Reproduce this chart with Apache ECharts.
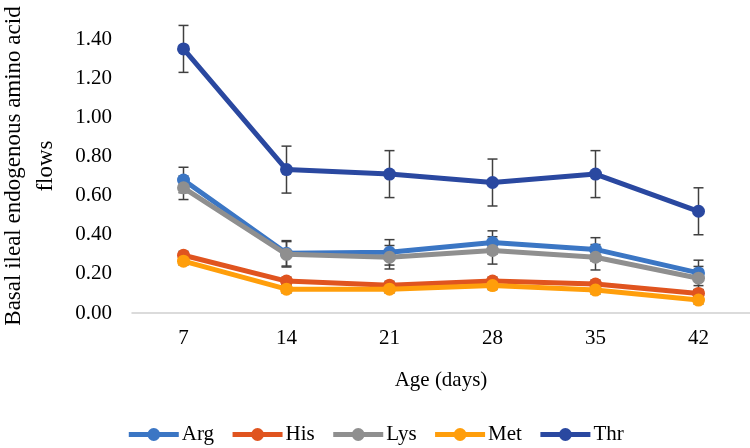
<!DOCTYPE html>
<html>
<head>
<meta charset="utf-8">
<script src="https://cdn.jsdelivr.net/npm/echarts@6/dist/echarts.min.js"></script>
<style>
  html, body { margin: 0; padding: 0; background: #fff; }
  #chart { width: 750px; height: 448px; }
</style>
</head>
<body>
<div id="chart"></div>
<script>
// age in days
const categories = ['7', '14', '21', '28', '35', '42'];

const arg = [0.68, 0.305, 0.31, 0.36, 0.325, 0.205];
const his = [0.295, 0.163, 0.142, 0.163, 0.148, 0.10];
const lys = [0.64, 0.30, 0.285, 0.32, 0.285, 0.178];
const met = [0.265, 0.122, 0.122, 0.14, 0.117, 0.066];
const thr = [1.35, 0.733, 0.71, 0.667, 0.71, 0.52];

// standard errors
const argErr = [0.065, 0.065, 0.065, 0.06, 0.06, 0.065];
const hisErr = [0.02, 0.02, 0.02, 0.02, 0.02, 0.02];
const lysErr = [0.06, 0.065, 0.06, 0.07, 0.065, 0.06];
const metErr = [0.02, 0.02, 0.02, 0.02, 0.02, 0.02];
const thrErr = [0.12, 0.12, 0.12, 0.12, 0.12, 0.12];

const font = 'Liberation Serif';

const lineSeries = [
  { name: 'Arg', data: arg, err: argErr, color: '#3b76c4' },
  { name: 'His', data: his, err: hisErr, color: '#e0541f' },
  { name: 'Lys', data: lys, err: lysErr, color: '#8f8f8f' },
  { name: 'Met', data: met, err: metErr, color: '#ff9e0b' },
  { name: 'Thr', data: thr, err: thrErr, color: '#2a48a0' }
];

function errorBars(s) {
  return {
    type: 'custom',
    name: s.name + ' err',
    z: 1,
    silent: true,
    data: s.data.map((v, i) => [i, v - s.err[i], v + s.err[i]]),
    renderItem: function (params, api) {
      const lo = api.coord([api.value(0), api.value(1)]);
      const hi = api.coord([api.value(0), api.value(2)]);
      const w = 5;
      const style = { stroke: '#404040', lineWidth: 1.5 };
      return {
        type: 'group',
        children: [
          { type: 'line', shape: { x1: lo[0], y1: lo[1], x2: hi[0], y2: hi[1] }, style: style },
          { type: 'line', shape: { x1: lo[0] - w, y1: lo[1], x2: lo[0] + w, y2: lo[1] }, style: style },
          { type: 'line', shape: { x1: hi[0] - w, y1: hi[1], x2: hi[0] + w, y2: hi[1] }, style: style }
        ]
      };
    }
  };
}

const series = [];
lineSeries.forEach(s => series.push(errorBars(s)));
lineSeries.forEach((s, k) => series.push({
  name: s.name,
  type: 'line',
  data: s.data,
  z: 2 + k,
  symbol: 'circle',
  symbolSize: 13,
  color: s.color,
  lineStyle: { width: 5, color: s.color },
  itemStyle: { color: s.color }
}));

const chart = echarts.init(document.getElementById('chart'));
chart.setOption({
  animation: false,
  textStyle: { fontFamily: font },
  grid: { left: 132, right: 0, top: -1, bottom: 135 },
  xAxis: {
    type: 'category',
    data: categories,
    name: 'Age (days)',
    nameLocation: 'middle',
    nameGap: 57,
    nameTextStyle: { fontFamily: font, fontSize: 21, color: '#000' },
    axisLine: { lineStyle: { color: '#d0d0d0', width: 1.5 } },
    axisTick: { show: false },
    axisLabel: { fontFamily: font, fontSize: 21, color: '#000', margin: 15 }
  },
  yAxis: {
    type: 'value',
    min: 0,
    max: 1.6,
    interval: 0.2,
    axisLine: { show: false },
    axisTick: { show: false },
    splitLine: { show: false },
    axisLabel: {
      fontFamily: font, fontSize: 21, color: '#000', margin: 20,
      showMaxLabel: false,
      formatter: v => v.toFixed(2)
    }
  },
  legend: {
    data: lineSeries.map(s => s.name),
    top: 419,
    left: 'center',
    itemWidth: 50,
    itemHeight: 16,
    itemGap: 16,
    lineStyle: { width: 5 },
    textStyle: { fontFamily: font, fontSize: 21, color: '#000', padding: [0, 0, 0, -2] }
  },
  graphic: [{
    type: 'text',
    x: 30,
    y: 166,
    rotation: Math.PI / 2,
    style: {
      text: 'Basal ileal endogenous amino acid\nflows',
      fontFamily: font,
      fontSize: 23,
      lineHeight: 32,
      fill: '#000',
      align: 'center',
      verticalAlign: 'middle'
    }
  }],
  series: series
});
</script>
</body>
</html>
